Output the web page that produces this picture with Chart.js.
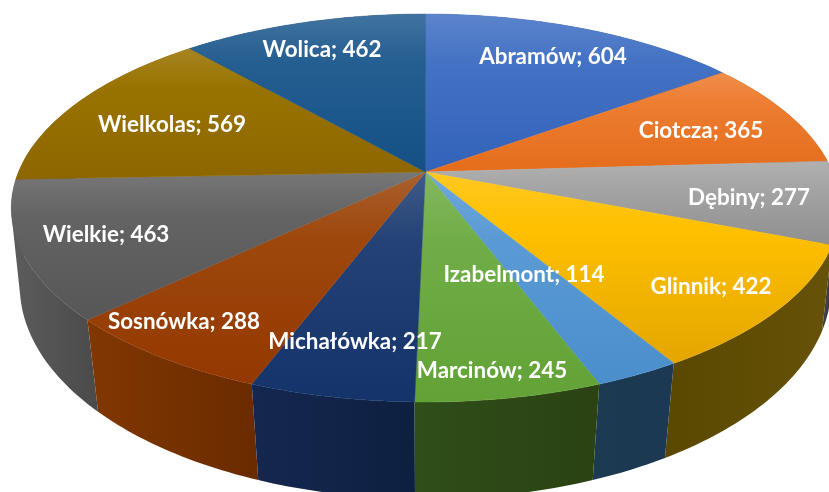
<!DOCTYPE html>
<html lang="pl">
<head>
<meta charset="utf-8">
<title>Pie 3D</title>
<style>html,body{margin:0;padding:0;background:#fff;overflow:hidden}canvas{display:block}</style>
<script src="https://cdn.jsdelivr.net/npm/chart.js@4"></script>
</head>
<body>
<canvas id="c" width="829" height="492"></canvas>
<script>
const categories = ["Abramów","Ciotcza","Dębiny","Glinnik","Izabelmont","Marcinów","Michałówka","Sosnówka","Wielkie","Wielkolas","Wolica"];
const values = [604,365,277,422,114,245,217,288,463,569,462];
const colors = ["#4472c4","#ed7d31","#a5a5a5","#ffc000","#5b9bd5","#70ad47","#244276","#9e480e","#636363","#997300","#255e91"];
const extraShade = [0,0,0.07,0.08,0,0,0,0,0,0,0];
const wallLeft = ["#2a4478","#8a4a1c","#3e3e44","#5a4800","#1c3a52","#2f4e18","#15274f","#813702","#5c5c5c","#5c4500","#163858"];
const wallRight = ["#2a4478","#8a4a1c","#3e3e44","#665208","#1c3852","#2b4213","#0e2040","#6a2b00","#4a4a4a","#5c4500","#163858"];
const labelCenters = [[553,56.5],[701,130.5],[749,197.5],[711,286.5],[524,274.5],[492,370.5],[355,341.5],[184,321.5],[106,234.5],[172,124.5],[322,49.5]];

const topFace = {cx:425.5, cy:172, a:407, b:187.3, k:0.1856};
const baseFace = {cx:425.5, cy:250.5, a:400, b:207, k:0.167};

function project(f, theta){
  const u = Math.sin(theta), v = -Math.cos(theta), w = 1 - f.k*v;
  return [f.cx + f.a*u/w, f.cy + f.b*v/w];
}
function channels(hex){
  const n = parseInt(hex.slice(1),16);
  return [n>>16,(n>>8)&255,n&255];
}
function lighter(hex, t){
  return "rgb("+channels(hex).map(x=>Math.round(x+(255-x)*t)).join(",")+")";
}
function deeper(hex, extra){
  const c = channels(hex), f = 0.5+0.5*Math.max(...c)/255;
  return "rgb("+c.map(x=>Math.max(0,Math.round((x-f*(7+0.07*(255-x)))*(1-extra)))).join(",")+")";
}
function arcPoints(f, s, e){
  const n = Math.max(2, Math.ceil((e-s)/(Math.PI/180))), pts=[];
  for(let i=0;i<=n;i++) pts.push(project(f, s+(e-s)*i/n));
  return pts;
}
function tracePath(ctx, pts){
  ctx.beginPath();
  pts.forEach((p,i)=> i?ctx.lineTo(p[0],p[1]):ctx.moveTo(p[0],p[1]));
  ctx.closePath();
}
function signedArea(q){
  let a = 0;
  q.forEach((p,i)=>{const n=q[(i+1)%q.length]; a += p[0]*n[1]-n[0]*p[1];});
  return a;
}
const pie3d = {
  id:"pie3d",
  beforeDatasetsDraw(chart){
    const ctx = chart.ctx, arcs = chart.getDatasetMeta(0).data;
    const slices = arcs.map((el,i)=>{
      const p = el.getProps(["startAngle","endAngle"], true);
      return {i, s:p.startAngle+Math.PI/2, e:p.endAngle+Math.PI/2};
    });
    ctx.save();
    // walls, back to front; all quads wound the same way so back-facing parts cannot cancel out
    slices.slice().sort((x,y)=>(-Math.cos((x.s+x.e)/2))-(-Math.cos((y.s+y.e)/2))).forEach(sl=>{
      const t = arcPoints(topFace, sl.s, sl.e), b = arcPoints(baseFace, sl.s, sl.e);
      const xs = t.concat(b).map(p=>p[0]);
      const g = ctx.createLinearGradient(Math.min(...xs),0,Math.max(...xs),0);
      g.addColorStop(0, wallLeft[sl.i]); g.addColorStop(1, wallRight[sl.i]);
      ctx.beginPath();
      for(let q=0;q<t.length-1;q++){
        let quad = [t[q],t[q+1],b[q+1],b[q]];
        if(signedArea(quad)<0) quad = quad.reverse();
        quad.forEach((p,i)=> i?ctx.lineTo(p[0],p[1]):ctx.moveTo(p[0],p[1]));
        ctx.closePath();
      }
      ctx.fillStyle = g; ctx.fill();
    });
    // top faces
    slices.forEach(sl=>{
      const c = [topFace.cx, topFace.cy];
      const pts = [c].concat(arcPoints(topFace, sl.s, sl.e));
      const ys = pts.map(p=>p[1]);
      const g = ctx.createLinearGradient(0,Math.min(...ys),0,Math.max(...ys));
      const col = chart.data.datasets[0].backgroundColor[sl.i];
      g.addColorStop(0, lighter(col,0.13));
      g.addColorStop(0.3, col);
      g.addColorStop(1, deeper(col, extraShade[sl.i]));
      tracePath(ctx, pts);
      ctx.fillStyle = g; ctx.fill();
      ctx.strokeStyle = g; ctx.lineWidth = 0.5; ctx.stroke();
    });
    // labels
    ctx.font = "bold 22.4px Lato, 'Open Sans', sans-serif";
    ctx.fillStyle = "#ffffff";
    ctx.textAlign = "center"; ctx.textBaseline = "middle";
    slices.forEach(sl=>{
      const pos = labelCenters[sl.i];
      ctx.fillText(chart.data.labels[sl.i]+"; "+chart.data.datasets[0].data[sl.i], pos[0], pos[1]);
    });
    ctx.restore();
    return false;
  }
};
new Chart(document.getElementById("c"),{
  type:"pie",
  data:{labels:categories,datasets:[{data:values,backgroundColor:colors,borderWidth:0}]},
  options:{responsive:false,animation:false,layout:{padding:0},
    plugins:{legend:{display:false},tooltip:{enabled:false}}},
  plugins:[pie3d]
});
</script>
</body>
</html>
